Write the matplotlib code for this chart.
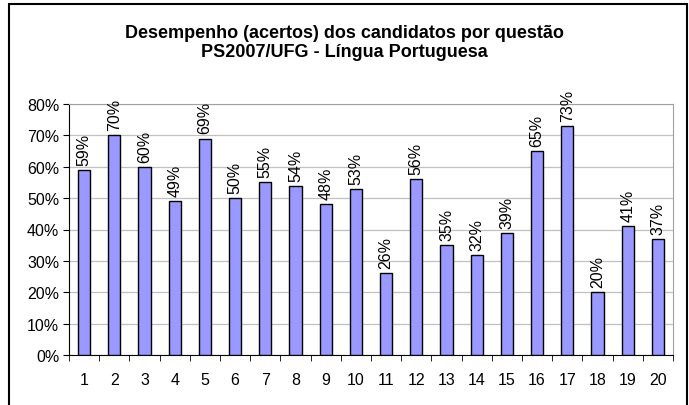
import matplotlib
matplotlib.use("Agg")
import matplotlib.pyplot as plt
from matplotlib.patches import Rectangle
from matplotlib.ticker import FixedLocator, NullFormatter

plt.rcParams['font.family'] = ['Liberation Sans', 'DejaVu Sans']

questions = [str(i) for i in range(1, 21)]
values = [0.59, 0.70, 0.60, 0.49, 0.69, 0.50, 0.55, 0.54, 0.48, 0.53,
          0.26, 0.56, 0.35, 0.32, 0.39, 0.65, 0.73, 0.20, 0.41, 0.37]
yticks = [0, 0.1, 0.2, 0.3, 0.4, 0.5, 0.6, 0.7, 0.8]
ytick_labels = ['0%', '10%', '20%', '30%', '40%', '50%', '60%', '70%', '80%']
title = "Desempenho (acertos) dos candidatos por questão\nPS2007/UFG - Língua Portuguesa"

fig = plt.figure(figsize=(6.89, 4.06), dpi=100)
fig.patches.append(Rectangle((9/689, -0.01), (687-9)/689, 1 - 5/406 + 0.01,
                             transform=fig.transFigure, fill=False,
                             edgecolor='black', linewidth=1.5, zorder=0))

ax = fig.add_axes([69/689, 1 - 356/406, (673-69)/689, (356-105)/406])
x = list(range(len(questions)))
ax.bar(x, values, width=0.4, color='#9999FF', edgecolor='black', linewidth=1.0, zorder=3)
for xi, v in zip(x, values):
    ax.text(xi, v + 0.016, f"{round(v*100):d}%", rotation=90, ha='center', va='bottom',
            fontsize=11.5, zorder=4, clip_on=False)

ax.set_xlim(-0.5, len(questions) - 0.5)
ax.set_ylim(0, 0.8)
ax.set_yticks(yticks)
ax.set_yticklabels(ytick_labels, fontsize=11.5)
ax.set_xticks(x)
ax.set_xticklabels(questions, fontsize=11.5)
ax.tick_params(axis='x', length=0, pad=12)
ax.xaxis.set_minor_locator(FixedLocator([i - 0.5 for i in range(len(questions) + 1)]))
ax.xaxis.set_minor_formatter(NullFormatter())
ax.tick_params(axis='x', which='minor', length=4, direction='out', color='black')
ax.tick_params(axis='y', length=4, direction='out', color='black', pad=3)
ax.yaxis.grid(True, color='#c0c0c0', linewidth=0.9, zorder=0)
ax.set_axisbelow(True)
for side in ['top', 'right']:
    ax.spines[side].set_color('#a0a0a0')
for side in ['left', 'bottom']:
    ax.spines[side].set_color('black')

fig.text(0.5, 1 - 43/406, title, ha='center', va='center', fontsize=13,
         fontweight='bold', linespacing=1.2)

fig.savefig('out.png', dpi=100)
